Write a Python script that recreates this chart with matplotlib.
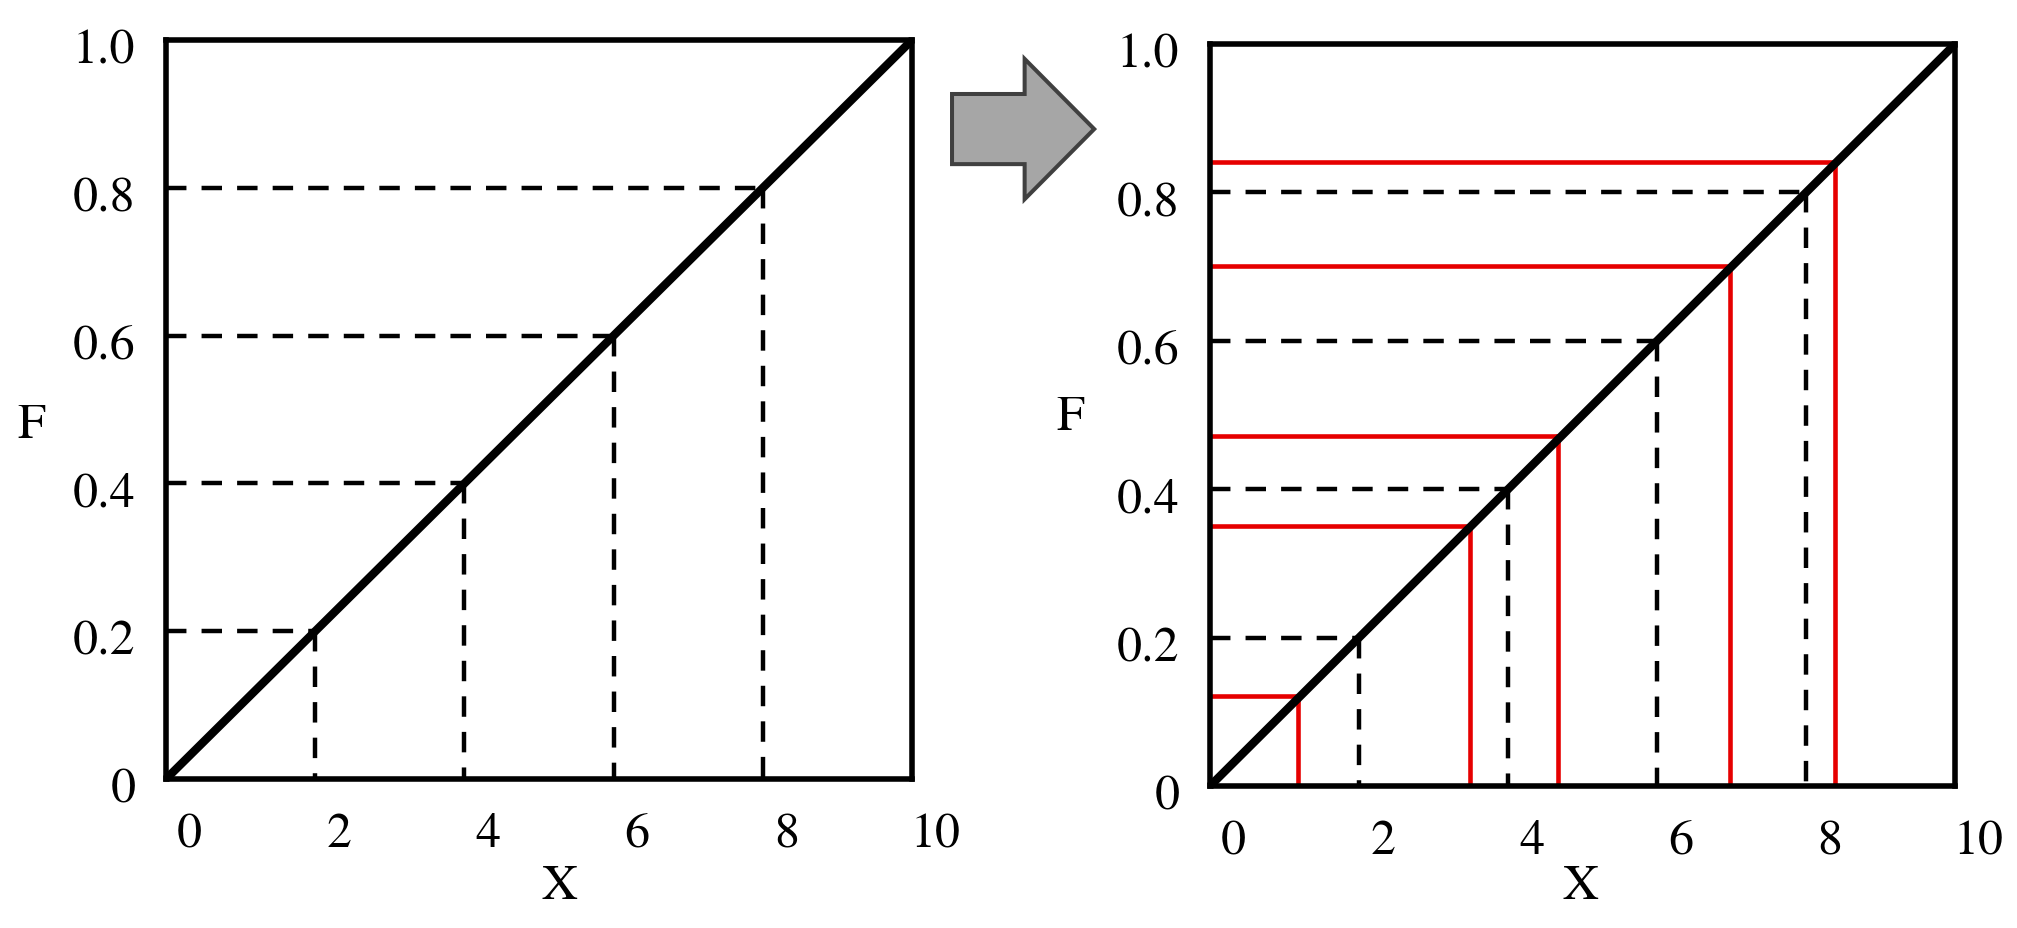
import numpy as np
import matplotlib.pyplot as plt
from matplotlib.patches import FancyArrow
from matplotlib.transforms import ScaledTranslation

plt.rcParams['font.family'] = ['TeX Gyre Termes', 'STIXGeneral', 'DejaVu Serif']
plt.rcParams['font.size'] = 36

# uniform cdf F(x) = x / 10 on [0, 10]
x_line = [0, 10]
f_line = [0.0, 1.0]

# dashed reference levels
dash_x = [2, 4, 6, 8]
dash_f = [0.2, 0.4, 0.6, 0.8]

# red samples in the right panel
red_x = [1.18, 3.49, 4.67, 6.98, 8.39]
red_f = [0.121, 0.350, 0.472, 0.701, 0.841]

x_ticks = [0, 2, 4, 6, 8, 10]
y_ticks = [0, 0.2, 0.4, 0.6, 0.8, 1.0]
y_ticklabels = ['0', '0.2', '0.4', '0.6', '0.8', '1.0']

fig = plt.figure(figsize=(20.17, 9.29), dpi=100)
ax1 = fig.add_axes([0.0823, 0.1604, 0.3699, 0.7955])
ax2 = fig.add_axes([0.5999, 0.1528, 0.3694, 0.7987])

dash_style = (0, (4.6, 3.4))


def setup(ax, xlab_pos, ylab_pos):
    ax.set_xlim(0, 10)
    ax.set_ylim(0, 1)
    for s in ax.spines.values():
        s.set_linewidth(4)
        s.set_zorder(5)
    ax.set_xticks(x_ticks)
    ax.set_xticklabels([str(t) for t in x_ticks])
    ax.set_yticks(y_ticks)
    ax.set_yticklabels(y_ticklabels)
    ax.tick_params(axis='x', length=0, pad=24)
    ax.tick_params(axis='y', length=0, pad=22)
    # labels sit a bit right of the tick positions
    off = ScaledTranslation(17 / 72, 0, fig.dpi_scale_trans)
    for lab in ax.get_xticklabels():
        lab.set_transform(lab.get_transform() + off)
    offy = ScaledTranslation(0, -4 / 72, fig.dpi_scale_trans)
    for lab in ax.get_yticklabels():
        lab.set_transform(lab.get_transform() + offy)
    ax.set_xlabel('X')
    ax.xaxis.label.set_va('center')
    ax.xaxis.set_label_coords(*xlab_pos)
    ax.set_ylabel('F', rotation=0, va='center', ha='center')
    ax.yaxis.set_label_coords(*ylab_pos)


def draw_dashed(ax):
    for xv, fv in zip(dash_x, dash_f):
        ax.plot([0, xv], [fv, fv], color='black', lw=3.2, ls=dash_style, zorder=2)
        ax.plot([xv, xv], [fv, 0], color='black', lw=3.2, ls=dash_style, zorder=2)


def draw_diag(ax):
    ax.plot(x_line, f_line, color='black', lw=6, solid_capstyle='butt',
            clip_on=False, zorder=4)


# left panel
draw_dashed(ax1)
draw_diag(ax1)
setup(ax1, (0.528, -0.146), (-0.18, 0.478))

# right panel
draw_dashed(ax2)
for xv, fv in zip(red_x, red_f):
    ax2.plot([0, xv], [fv, fv], color='#e60000', lw=3.3, zorder=3)
    ax2.plot([xv, xv], [fv, 0], color='#e60000', lw=3.3, zorder=3)
draw_diag(ax2)
setup(ax2, (0.497, -0.136), (-0.188, 0.497))

# grey arrow between the panels
arrow = FancyArrow(0.472, 0.860, 0.0705, 0, width=0.0755, head_width=0.151,
                   head_length=0.0345, length_includes_head=True,
                   transform=fig.transFigure, facecolor='#a6a6a6',
                   edgecolor='#404040', linewidth=2.9, joinstyle='miter')
fig.patches.append(arrow)

plt.savefig('out.png', dpi=100)
